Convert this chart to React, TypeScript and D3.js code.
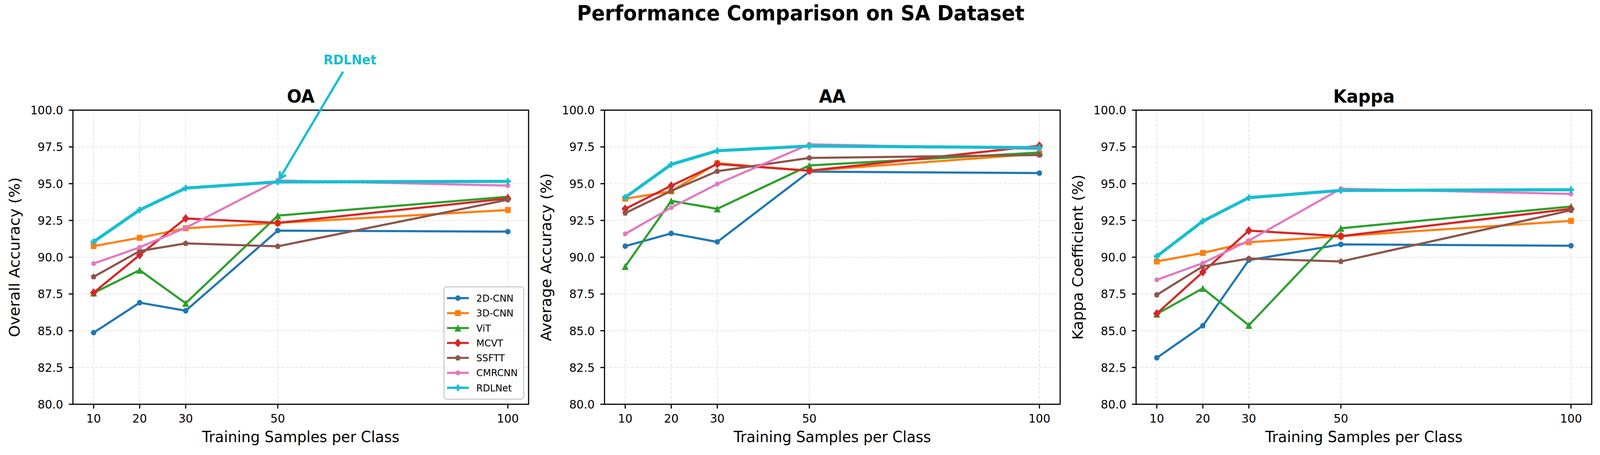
import React from 'react';
import * as d3 from 'd3';

const samples = [10, 20, 30, 50, 100];
const methods = ['2D-CNN', '3D-CNN', 'ViT', 'MCVT', 'SSFTT', 'CMRCNN', 'RDLNet'];
const colors = ['#1f77b4', '#ff7f0e', '#2ca02c', '#d62728', '#8c564b', '#e377c2', '#17becf'];
const markerTypes = ['o', 's', '^', 'D', 'p', 'h', 'P'];

const oaValues = [
  [84.87, 86.91, 86.36, 91.81, 91.74],
  [90.76, 91.32, 91.97, 92.33, 93.21],
  [87.57, 89.12, 86.87, 92.83, 94.11],
  [87.59, 90.15, 92.64, 92.33, 94.0],
  [88.67, 90.42, 90.94, 90.74, 93.91],
  [89.57, 90.67, 92.0, 95.22, 94.87],
  [91.05, 93.22, 94.7, 95.12, 95.16],
];
const aaValues = [
  [90.75, 91.62, 91.04, 95.82, 95.72],
  [93.98, 94.48, 96.39, 95.88, 97.04],
  [89.37, 93.83, 93.29, 96.24, 97.12],
  [93.29, 94.86, 96.34, 95.88, 97.58],
  [93.0, 94.51, 95.85, 96.75, 96.95],
  [91.59, 93.37, 94.98, 97.68, 97.36],
  [94.07, 96.31, 97.24, 97.56, 97.45],
];
const kappaValues = [
  [83.16, 85.34, 89.8, 90.87, 90.78],
  [89.71, 90.29, 91.02, 91.43, 92.47],
  [86.14, 87.88, 85.37, 91.97, 93.45],
  [86.17, 88.99, 91.81, 91.43, 93.29],
  [87.44, 89.38, 89.91, 89.71, 93.19],
  [88.46, 89.6, 91.13, 94.66, 94.3],
  [90.06, 92.45, 94.05, 94.54, 94.59],
];

const panelTitles = ['OA', 'AA', 'Kappa'];
const yLabels = ['Overall Accuracy (%)', 'Average Accuracy (%)', 'Kappa Coefficient (%)'];
const panelValues = [oaValues, aaValues, kappaValues];
const yTicks = [80, 82.5, 85, 87.5, 90, 92.5, 95, 97.5, 100];
const xLabel = 'Training Samples per Class';
const suptitle = 'Performance Comparison on SA Dataset';
const annotationLabel = 'RDLNet';

const W = 4256;
const H = 1166;
const FONT = "'DejaVu Sans', 'Liberation Sans', sans-serif";
const panelLefts = [194, 1608, 3022];
const panelWidth = 1212;
const top = 282.3;
const bottom = 1036;
const MK = 1.1;

function Marker({ type, x, y, color }: { type: string; x: number; y: number; color: string }) {
  if (type === 'o') return <circle cx={x} cy={y} r={6.5 * MK} fill={color} />;
  if (type === 's') {
    const h = 7 * MK;
    return <rect x={x - h} y={y - h} width={2 * h} height={2 * h} fill={color} />;
  }
  if (type === '^') {
    const s = 16.5 * MK;
    return <path d={`M${x},${y - s / 2}L${x + s / 2},${y + s / 2}L${x - s / 2},${y + s / 2}Z`} fill={color} />;
  }
  if (type === 'D') {
    const w = 8.7 * MK, h = 10.2 * MK;
    return <path d={`M${x},${y - h}L${x + w},${y}L${x},${y + h}L${x - w},${y}Z`} fill={color} />;
  }
  if (type === 'p' || type === 'h') {
    const n = type === 'p' ? 5 : 6;
    const r = (type === 'p' ? 7.3 : 6.2) * MK;
    const pts = d3.range(n).map((k) => {
      const a = -Math.PI / 2 + (k * 2 * Math.PI) / n;
      return [x + r * Math.cos(a), y + r * Math.sin(a)];
    });
    return <path d={'M' + pts.map((p) => p.join(',')).join('L') + 'Z'} fill={color} />;
  }
  const s = 7.4 * MK, t = 2.7 * MK;
  const d = `M${x - t},${y - s}H${x + t}V${y - t}H${x + s}V${y + t}H${x + t}V${y + s}H${x - t}V${y + t}H${x - s}V${y - t}H${x - t}Z`;
  return <path d={d} fill={color} />;
}

function Panel({ index }: { index: number }) {
  const left = panelLefts[index];
  const right = left + panelWidth;
  const x = d3.scaleLinear().domain([5.5, 104.5]).range([left, right]);
  const y = d3.scaleLinear().domain([80, 100]).range([bottom, top]);
  const values = panelValues[index];
  const line = d3
    .line<number>()
    .x((_, i) => x(samples[i]))
    .y((v) => y(v));
  const cx = (left + right) / 2;
  const cy = (top + bottom) / 2;

  return (
    <g>
      {yTicks.map((t) => (
        <line key={'gy' + t} x1={left} x2={right} y1={y(t)} y2={y(t)} stroke="#e6e6e6" strokeWidth={2.2} strokeDasharray="8.2 3.6" />
      ))}
      {samples.map((s) => (
        <line key={'gx' + s} x1={x(s)} x2={x(s)} y1={top} y2={bottom} stroke="#e6e6e6" strokeWidth={2.2} strokeDasharray="8.2 3.6" />
      ))}
      {values.map((vals, m) => (
        <g key={methods[m]}>
          <path d={line(vals) || ''} fill="none" stroke={colors[m]} strokeWidth={m === 6 ? 8 : 5.5} strokeLinejoin="round" />
          {vals.map((v, i) => (
            <Marker key={i} type={markerTypes[m]} x={x(samples[i])} y={y(v)} color={colors[m]} />
          ))}
        </g>
      ))}
      <rect x={left} y={top} width={panelWidth} height={bottom - top} fill="none" stroke="#000" strokeWidth={3} />
      {yTicks.map((t) => (
        <g key={'ty' + t}>
          <line x1={left - 11} x2={left} y1={y(t)} y2={y(t)} stroke="#000" strokeWidth={3} />
          <text x={left - 26} y={y(t)} dy="0.36em" textAnchor="end" fontFamily={FONT} fontSize={30.5} fill="#000">
            {t.toFixed(1)}
          </text>
        </g>
      ))}
      {samples.map((s) => (
        <g key={'tx' + s}>
          <line x1={x(s)} x2={x(s)} y1={bottom} y2={bottom + 11} stroke="#000" strokeWidth={3} />
          <text x={x(s)} y={bottom + 47} textAnchor="middle" fontFamily={FONT} fontSize={30.5} fill="#000">
            {s}
          </text>
        </g>
      ))}
      <text x={cx} y={1133} textAnchor="middle" fontFamily={FONT} fontSize={39} fill="#000">
        {xLabel}
      </text>
      <text
        transform={`translate(${left - 142},${cy}) rotate(-90)`}
        textAnchor="middle"
        fontFamily={FONT}
        fontSize={39}
        fill="#000"
      >
        {yLabels[index]}
      </text>
      <text x={cx} y={263} textAnchor="middle" fontFamily={FONT} fontSize={46} fontWeight="bold" fill="#000">
        {panelTitles[index]}
      </text>
      {index === 0 && <Legend />}
      {index === 0 && <Annotation x={x} y={y} />}
    </g>
  );
}

function Legend() {
  const lx = 1181, rx = 1393, ty = 735, by = 1023;
  return (
    <g>
      <rect x={lx} y={ty} width={rx - lx} height={by - ty} rx={7} fill="#fff" fillOpacity={0.8} stroke="#cccccc" strokeWidth={3} />
      {methods.map((name, m) => {
        const cy = 764 + m * 38.3;
        return (
          <g key={name}>
            <line x1={1189} x2={1247} y1={cy} y2={cy} stroke={colors[m]} strokeWidth={m === 6 ? 6 : 5.3} />
            <Marker type={markerTypes[m]} x={1218} y={cy} color={colors[m]} />
            <text x={1267} y={cy + 9} fontFamily={FONT} fontSize={25} fill="#000">
              {name}
            </text>
          </g>
        );
      })}
    </g>
  );
}

function Annotation({ x, y }: { x: d3.ScaleLinear<number, number>; y: d3.ScaleLinear<number, number> }) {
  const tx = x(65.7);
  const ty = y(103.1);
  const targetX = x(samples[3]);
  const targetY = y(oaValues[6][3]);
  const cxT = tx;
  const cyT = ty - 12;
  const dx = targetX - cxT;
  const dy = targetY - cyT;
  const len = Math.hypot(dx, dy);
  const ux = dx / len, uy = dy / len;
  const startT = (ty + 18 - cyT) / dy;
  const sx = cxT + dx * startT;
  const sy = cyT + dy * startT;
  const ex = targetX - ux * 10;
  const ey = targetY - uy * 10;
  const ang = Math.atan2(-uy, -ux);
  const hl = 19;
  const a1 = ang + (30 * Math.PI) / 180;
  const a2 = ang - (30 * Math.PI) / 180;
  const b1 = [ex + hl * Math.cos(a1), ey + hl * Math.sin(a1)];
  const b2 = [ex + hl * Math.cos(a2), ey + hl * Math.sin(a2)];
  const c = colors[6];
  return (
    <g>
      <line x1={sx} y1={sy} x2={ex} y2={ey} stroke={c} strokeWidth={6} />
      <path d={`M${b1[0]},${b1[1]}L${ex},${ey}L${b2[0]},${b2[1]}`} fill="none" stroke={c} strokeWidth={6} strokeLinejoin="miter" />
      <text x={tx} y={ty} textAnchor="middle" fontFamily={FONT} fontSize={33.3} fontWeight="bold" fill={c}>
        {annotationLabel}
      </text>
    </g>
  );
}

export default function App() {
  return (
    <svg
      viewBox={`0 0 ${W} ${H}`}
      preserveAspectRatio="none"
      style={{ position: 'fixed', left: 0, top: 0, width: '100vw', height: '100vh', display: 'block', background: '#fff' }}
    >
      <rect x={0} y={0} width={W} height={H} fill="#fff" />
      <text x={2130} y={52} textAnchor="middle" fontFamily={FONT} fontSize={52.7} fontWeight="bold" fill="#000">
        {suptitle}
      </text>
      {[0, 1, 2].map((i) => (
        <Panel key={i} index={i} />
      ))}
    </svg>
  );
}
